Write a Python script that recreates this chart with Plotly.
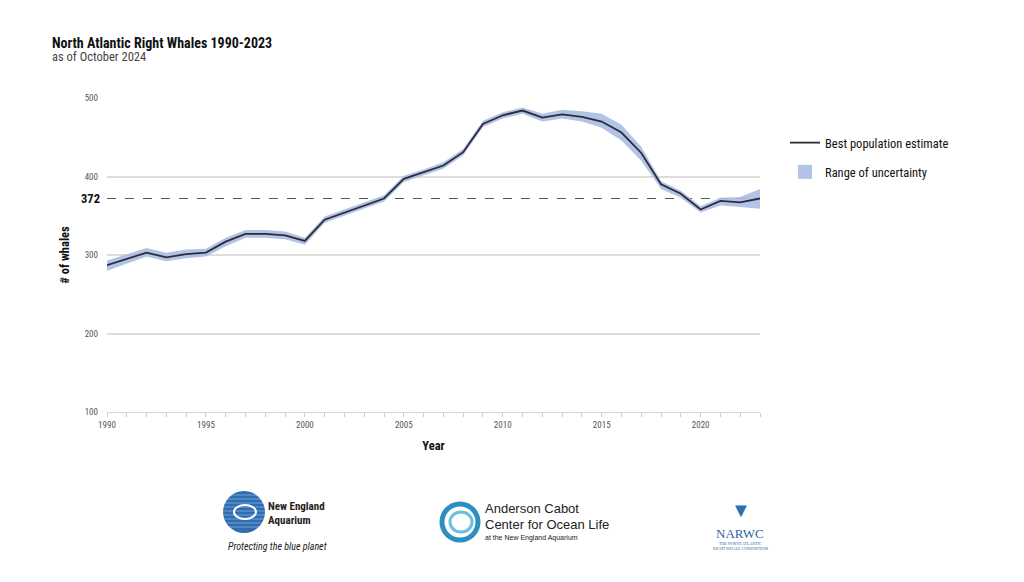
import plotly.graph_objects as go

years = list(range(1990, 2024))
estimate = [287, 295, 303, 297, 301, 303, 317, 327, 327, 325, 318, 345, 354, 363, 372, 397, 405, 414, 431, 467,
            478, 484, 475, 479, 476, 470, 456, 430, 390, 378, 358, 369, 367, 372]
lower = [280, 289, 298, 292, 296, 298, 311, 322, 322, 320, 313, 341, 350, 359, 368, 393, 401, 410, 427, 463,
         474, 480, 470, 474, 470, 462, 446, 420, 384, 373, 354, 363, 361, 359]
upper = [293, 301, 309, 303, 307, 308, 322, 332, 332, 330, 322, 349, 358, 367, 376, 401, 409, 418, 435, 471,
         482, 488, 480, 485, 483, 480, 466, 438, 394, 382, 362, 373, 374, 384]
reference_level = 372
y_ticks = [100, 200, 300, 400, 500]
x_ticks = [1990, 1995, 2000, 2005, 2010, 2015, 2020]

FONT = "Liberation Sans Narrow, Roboto Condensed, Arial Narrow, Liberation Sans, sans-serif"
BAND = "rgba(170,188,228,0.9)"

# page offset of the figure (body margin) and plot area in page pixels
OFF = 8
L, R, T, B = 107, 760, 98, 412
W, H = 1008, 566


def px(x, y):
    return (x - L) / (R - L), (B - y) / (B - T)


fig = go.Figure()
fig.add_trace(go.Scatter(x=years, y=lower, mode="lines", line=dict(width=0, color=BAND),
                         showlegend=False, hoverinfo="skip"))
fig.add_trace(go.Scatter(x=years, y=upper, mode="lines", line=dict(width=0, color=BAND),
                         fill="tonexty", fillcolor=BAND, name="Range of uncertainty",
                         showlegend=False))
fig.add_trace(go.Scatter(x=years, y=estimate, mode="lines", line=dict(color="#2b2d36", width=1.8),
                         name="Best population estimate", legendgroup="a", legendrank=1))
# legend swatch for the band
fig.add_trace(go.Scatter(x=[None], y=[None], mode="markers", name="Range of uncertainty",
                         marker=dict(symbol="square", size=14, color=BAND),
                         legendgroup="b", legendrank=2))

fig.add_shape(type="line", xref="x", yref="y", x0=years[0], x1=years[-1], y0=reference_level,
              y1=reference_level, line=dict(color="#555555", width=1.2, dash="dash"), layer="below")
fig.add_annotation(xref="paper", yref="y", x=0, y=reference_level, xanchor="right", xshift=-5,
                   text="<b>%d</b>" % reference_level, showarrow=False,
                   font=dict(family=FONT, size=12.5, color="#111111"))

# titles
fig.add_annotation(xref="paper", yref="paper", x=px(50, 0)[0], y=px(0, 43)[1], xanchor="left",
                   yanchor="middle", showarrow=False, text="<b>North Atlantic Right Whales 1990-2023</b>",
                   font=dict(family=FONT, size=14, color="#111111"))
fig.add_annotation(xref="paper", yref="paper", x=px(50, 0)[0], y=px(0, 57)[1], xanchor="left",
                   yanchor="middle", showarrow=False, text="as of October 2024",
                   font=dict(family=FONT, size=12.5, color="#444444"))

# logos (approximated with shapes and text)
cx, cy = 244, 512
x0, y0 = px(cx - 21, cy - 21)
x1, y1 = px(cx + 21, cy + 21)
fig.add_shape(type="circle", xref="paper", yref="paper", x0=x0, y0=y0, x1=x1, y1=y1,
              fillcolor="#2f6db3", line=dict(width=0))
for dy in range(-17, 19, 4):
    a0, b0 = px(cx - 21, cy + dy)
    a1, _ = px(cx + 21, cy + dy)
    fig.add_shape(type="line", xref="paper", yref="paper", x0=a0, x1=a1, y0=b0, y1=b0,
                  line=dict(color="rgba(255,255,255,0.35)", width=1))
a0, b0 = px(cx - 10, cy - 7)
a1, b1 = px(cx + 12, cy + 7)
fig.add_shape(type="circle", xref="paper", yref="paper", x0=a0, y0=b0, x1=a1, y1=b1,
              fillcolor="rgba(0,0,0,0)", line=dict(color="white", width=2))


def txt(x, y, s, size, color="#222222", anchor="left", family=FONT):
    ax, ay = px(x, y)
    fig.add_annotation(xref="paper", yref="paper", x=ax, y=ay, xanchor=anchor, yanchor="middle",
                       text=s, showarrow=False, font=dict(family=family, size=size, color=color))


txt(266, 506, "<b>New England</b>", 11)
txt(266, 520, "<b>Aquarium</b>", 11)
txt(277, 546, "<i>Protecting the blue planet</i>", 10, anchor="center")

a0, b0 = px(442, 504)
a1, b1 = px(478, 540)
fig.add_shape(type="circle", xref="paper", yref="paper", x0=a0, y0=b0, x1=a1, y1=b1,
              fillcolor="rgba(0,0,0,0)", line=dict(color="#2d8fbf", width=5))
a0, b0 = px(450, 512)
a1, b1 = px(472, 532)
fig.add_shape(type="circle", xref="paper", yref="paper", x0=a0, y0=b0, x1=a1, y1=b1,
              fillcolor="rgba(0,0,0,0)", line=dict(color="#6cc0dc", width=3))
txt(483, 508, "Anderson Cabot", 13, family="Liberation Sans, Arial, sans-serif")
txt(483, 524, "Center for Ocean Life", 13, family="Liberation Sans, Arial, sans-serif")
txt(483, 538, "at the New England Aquarium", 7, family="Liberation Sans, Arial, sans-serif")

txt(740, 533, "NARWC", 13, color="#2f5fa8", anchor="center", family="Liberation Serif, serif")
txt(740, 543, "THE NORTH ATLANTIC", 4, color="#2f5fa8", anchor="center", family="Liberation Serif, serif")
txt(740, 548, "RIGHT WHALE CONSORTIUM", 4, color="#2f5fa8", anchor="center", family="Liberation Serif, serif")
txt(741, 510, "▼", 20, color="#2f6db3", anchor="center")

fig.update_layout(
    width=W, height=H,
    margin=dict(l=L - OFF, r=W - (R - OFF), t=T - OFF, b=H - (B - OFF)),
    paper_bgcolor="white", plot_bgcolor="white",
    font=dict(family=FONT, size=9, color="#555555"),
    showlegend=True,
    legend=dict(x=px(785, 0)[0], y=px(0, 128)[1], xanchor="left", yanchor="top",
                font=dict(family=FONT, size=12.5, color="#111111"), tracegroupgap=10,
                itemwidth=30, bgcolor="rgba(0,0,0,0)"),
    xaxis=dict(range=[1990, 2023], tickvals=x_ticks, ticks="outside", ticklen=4, tickcolor="#cccccc",
               showgrid=False, zeroline=False, showline=True, linecolor="#d5d5d5", linewidth=1,
               minor=dict(dtick=1, ticks="outside", ticklen=4, tickcolor="#cccccc"),
               tickfont=dict(family=FONT, size=9, color="#555555"),
               title=dict(text="<b>Year</b>", font=dict(family=FONT, size=12.5, color="#111111"), standoff=12)),
    yaxis=dict(range=[100, 500], tickvals=y_ticks, showgrid=True, gridcolor="#dddddd", gridwidth=1.5,
               zeroline=False, showline=False, ticks="", ticklabelstandoff=8,
               tickfont=dict(family=FONT, size=9, color="#555555"),
               title=dict(text="<b># of whales</b>", font=dict(family=FONT, size=12.5, color="#111111"),
                          standoff=12)),
)

fig.write_html("out.html")
